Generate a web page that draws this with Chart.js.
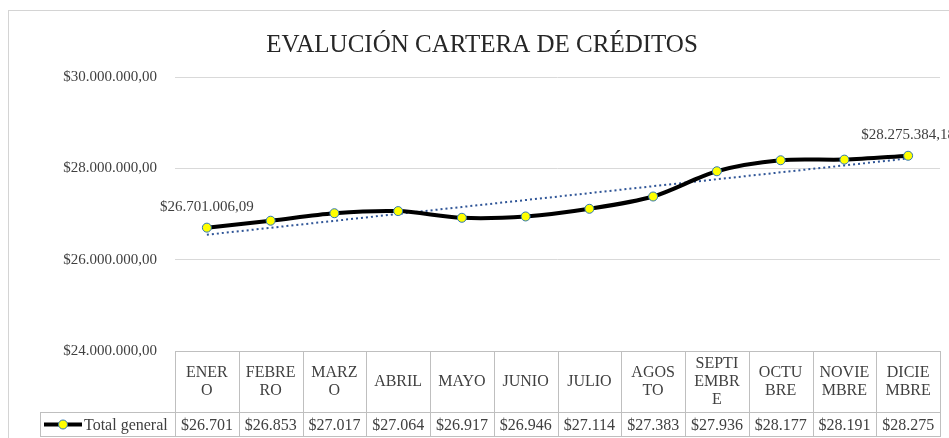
<!DOCTYPE html>
<html>
<head>
<meta charset="utf-8">
<script src="https://cdn.jsdelivr.net/npm/chart.js@4/dist/chart.umd.min.js"></script>
<style>
  html, body { margin: 0; padding: 0; background: #fff; }
  #wrap { position: relative; width: 949px; height: 438px; }
  #frame { position: absolute; left: 8px; top: 10px; width: 960px; height: 440px;
           border: 1px solid #d4d4d4; box-sizing: border-box; pointer-events: none; }
</style>
</head>
<body>
<div id="wrap">
  <canvas id="chart" width="949" height="438"></canvas>
  <div id="frame"></div>
</div>
<script>
// data
const months = [
  ["ENER", "O"], ["FEBRE", "RO"], ["MARZ", "O"], ["ABRIL"], ["MAYO"], ["JUNIO"],
  ["JULIO"], ["AGOS", "TO"], ["SEPTI", "EMBR", "E"], ["OCTU", "BRE"], ["NOVIE", "MBRE"], ["DICIE", "MBRE"]
];
const totalGeneral = [
  26701006.09, 26853000, 27017000, 27064000, 26917000, 26946000,
  27114000, 27383000, 27936000, 28177000, 28191000, 28275384.18
];
const yTicks = [24000000, 26000000, 28000000, 30000000];
const chartTitle = "EVALUCIÓN CARTERA DE CRÉDITOS";

const FONT = "'Liberation Serif', 'Times New Roman', serif";
const TXT = "#404040";

/* ============================
   HELPERS
============================ */
function money(v, dec) {
  const parts = v.toFixed(dec).split(".");
  const int = parts[0].replace(/\B(?=(\d{3})+(?!\d))/g, ".");
  return "$" + int + (dec ? "," + parts[1] : "");
}

// linear trend (least squares) like Excel's trendline
function trend(vals) {
  const n = vals.length;
  const mx = (n - 1) / 2;
  const my = vals.reduce((a, b) => a + b, 0) / n;
  let num = 0, den = 0;
  vals.forEach((v, i) => { num += (i - mx) * (v - my); den += (i - mx) * (i - mx); });
  const b = num / den;
  return vals.map((_, i) => my + b * (i - mx));
}

/* ============================
   PLUGINS
============================ */
const titlePlugin = {
  id: "excelTitle",
  afterDraw(chart) {
    const ctx = chart.ctx;
    ctx.save();
    ctx.font = "25px " + FONT;
    ctx.fillStyle = "#262626";
    ctx.textAlign = "center";
    ctx.textBaseline = "middle";
    ctx.fillText(chartTitle, 482, 45);
    ctx.restore();
  }
};

const labelsPlugin = {
  id: "endLabels",
  afterDatasetsDraw(chart) {
    const ctx = chart.ctx;
    const pts = chart.getDatasetMeta(0).data;
    ctx.save();
    ctx.font = "15px " + FONT;
    ctx.fillStyle = TXT;
    ctx.textAlign = "center";
    ctx.textBaseline = "middle";
    [0, pts.length - 1].forEach(i => {
      ctx.fillText(money(totalGeneral[i], 2), pts[i].x, pts[i].y - 21);
    });
    ctx.restore();
  }
};

const tablePlugin = {
  id: "dataTable",
  afterDraw(chart) {
    const ctx = chart.ctx;
    const area = chart.chartArea;
    const n = months.length;
    const w = (area.right - area.left) / n;
    const top = area.bottom, mid = area.bottom + 61, bot = area.bottom + 86;
    const legL = 40;

    ctx.save();
    ctx.strokeStyle = "#bfbfbf";
    ctx.lineWidth = 1;
    ctx.beginPath();
    ctx.moveTo(area.left, top + 0.5); ctx.lineTo(area.right, top + 0.5);
    ctx.moveTo(legL, mid + 0.5); ctx.lineTo(area.right, mid + 0.5);
    ctx.moveTo(legL, bot - 0.5); ctx.lineTo(area.right, bot - 0.5);
    ctx.moveTo(legL + 0.5, mid); ctx.lineTo(legL + 0.5, bot);
    for (let i = 0; i <= n; i++) {
      const x = Math.round(area.left + i * w) + 0.5;
      ctx.moveTo(x, top); ctx.lineTo(x, bot);
    }
    ctx.stroke();

    ctx.fillStyle = TXT;
    ctx.font = "16px " + FONT;
    ctx.textAlign = "center";
    ctx.textBaseline = "middle";
    const lh = 18;
    months.forEach((lines, i) => {
      const cx = area.left + (i + 0.5) * w;
      const cy = (top + mid) / 2;
      lines.forEach((s, j) => {
        ctx.fillText(s, cx, cy + (j - (lines.length - 1) / 2) * lh);
      });
      ctx.fillText(money(totalGeneral[i] / 1000, 0), cx, (mid + bot) / 2 + 1);
    });

    // legend cell
    const ly = (mid + bot) / 2;
    ctx.strokeStyle = "#000";
    ctx.lineWidth = 4;
    ctx.beginPath(); ctx.moveTo(44, ly); ctx.lineTo(82, ly); ctx.stroke();
    ctx.beginPath(); ctx.arc(63, ly, 4.5, 0, Math.PI * 2);
    ctx.fillStyle = "#ffff00"; ctx.fill();
    ctx.strokeStyle = "#2e75b6"; ctx.lineWidth = 1; ctx.stroke();
    ctx.fillStyle = TXT;
    ctx.textAlign = "left";
    ctx.fillText("Total general", 84, ly + 1);
    ctx.restore();
  }
};

/* ============================
   CHART
============================ */
new Chart(document.getElementById("chart"), {
  type: "line",
  data: {
    labels: months,
    datasets: [{
      label: "Total general",
      data: totalGeneral,
      borderColor: "#000000",
      borderWidth: 4,
      tension: 0.3,
      pointRadius: 4.5,
      pointBackgroundColor: "#ffff00",
      pointBorderColor: "#2e75b6",
      pointBorderWidth: 1,
      order: 1
    }, {
      label: "Lineal (Total general)",
      data: trend(totalGeneral),
      borderColor: "#2f5597",
      borderWidth: 2,
      borderDash: [2, 3],
      pointRadius: 0,
      order: 2
    }]
  },
  options: {
    responsive: false,
    animation: false,
    layout: { padding: { left: 0, right: 9, top: 77, bottom: 87 } },
    plugins: {
      legend: { display: false },
      tooltip: { enabled: false },
      title: { display: false }
    },
    scales: {
      x: {
        display: false,
        offset: true
      },
      y: {
        min: 24000000,
        max: 30000000,
        afterBuildTicks: s => { s.ticks = yTicks.map(v => ({ value: v })); },
        afterFit: s => { s.width = 175; },
        border: { display: false },
        grid: { color: "#d9d9d9", drawTicks: false },
        ticks: {
          padding: 18,
          color: TXT,
          font: { family: FONT, size: 15 },
          callback: v => money(v, 2)
        }
      }
    }
  },
  plugins: [titlePlugin, labelsPlugin, tablePlugin]
});
</script>
</body>
</html>
